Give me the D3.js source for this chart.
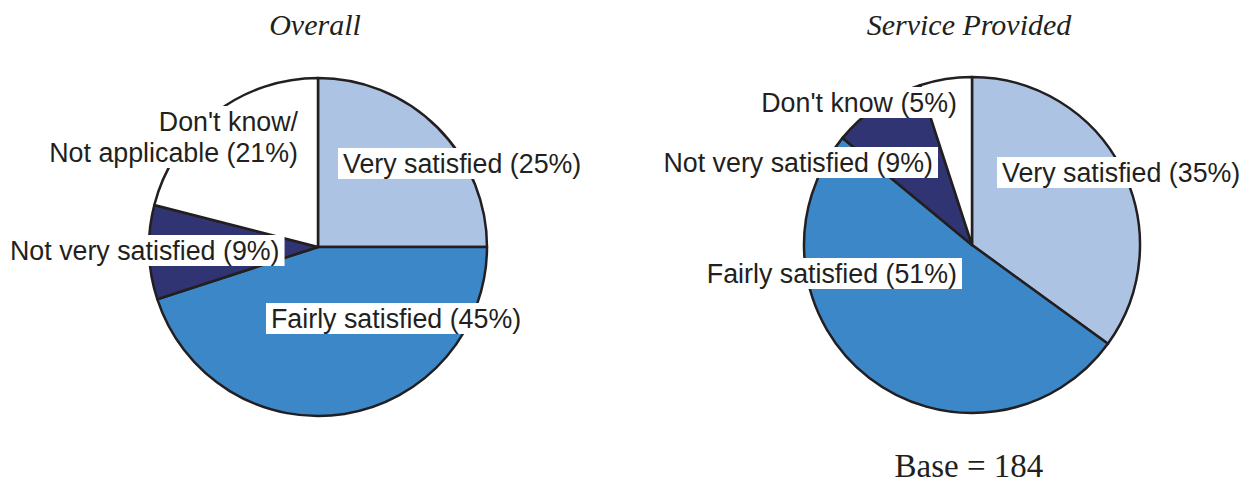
<!DOCTYPE html>
<html>
<head>
<meta charset="utf-8">
<script src="https://cdn.jsdelivr.net/npm/d3@7"></script>
<style>
  body { margin: 0; background: #fff; }
  svg { display: block; }
</style>
</head>
<body>
<div id="chart"></div>
<script>
var width = 1249,
  height = 485;

// data
var categories = ["Very satisfied", "Fairly satisfied", "Not very satisfied", "Don't know"];
var overallValues = [25, 45, 9, 21];
var serviceValues = [35, 51, 9, 5];
var overallLabels = ["Very satisfied (25%)", "Fairly satisfied (45%)", "Not very satisfied (9%)", "Don't know/\nNot applicable (21%)"];
var serviceLabels = ["Very satisfied (35%)", "Fairly satisfied (51%)", "Not very satisfied (9%)", "Don't know (5%)"];
var titles = ["Overall", "Service Provided"];
var baseNote = "Base = 184";

var colors = d3.scaleOrdinal()
  .domain(categories)
  .range(["#adc3e4", "#3b87c7", "#303472", "#ffffff"]);

// label placement, offsets from each pie centre (layout only)
var labelLayout = [
  [ {dx: 25, dy: -74, anchor: "start"},
    {dx: -47, dy: 81, anchor: "start"},
    {dx: -308, dy: 13, anchor: "start"},
    {dx: -20, dy: -116, anchor: "end"} ],
  [ {dx: 30, dy: -63, anchor: "start"},
    {dx: -15, dy: 38, anchor: "end"},
    {dx: -39, dy: -73, anchor: "end"},
    {dx: -15, dy: -133, anchor: "end"} ]
];

var pies = [
  {title: titles[0], values: overallValues, labels: overallLabels, cx: 318, cy: 247, r: 169},
  {title: titles[1], values: serviceValues, labels: serviceLabels, cx: 972, cy: 245, r: 168}
];

var svg = d3.select("#chart")
  .append("svg")
  .attr("width", width)
  .attr("height", height);

var pie = d3.pie()
  .sort(null)
  .value(function(d) { return d.value; });

pies.forEach(function(p, pi) {
  var arc = d3.arc()
    .innerRadius(0)
    .outerRadius(p.r);

  var rows = categories.map(function(c, i) {
    return {cat: c, value: p.values[i], label: p.labels[i]};
  });

  var g = svg.append("g")
    .attr("transform", "translate(" + p.cx + "," + p.cy + ")");

  g.selectAll("path.slice")
    .data(pie(rows))
    .enter().append("path")
    .attr("class", "slice")
    .attr("d", arc)
    .attr("fill", function(d) { return colors(d.data.cat); })
    .attr("stroke", "#231f20")
    .attr("stroke-width", 2.5)
    .attr("stroke-linejoin", "round");

  // title
  svg.append("text")
    .attr("x", p.cx - 3)
    .attr("y", 35)
    .attr("text-anchor", "middle")
    .attr("font-family", "'Liberation Serif', serif")
    .attr("font-style", "italic")
    .attr("font-size", "30px")
    .attr("fill", "#231f20")
    .text(p.title);

  // labels with white boxes
  rows.forEach(function(row, i) {
    var lay = labelLayout[pi][i];
    var lg = g.append("g");
    var box = lg.append("rect").attr("fill", "#fff");
    var t = lg.append("text")
      .attr("font-family", "'Liberation Sans', Arial, sans-serif")
      .attr("font-size", "26.8px")
      .attr("fill", "#231f20")
      .attr("text-anchor", lay.anchor);
    row.label.split("\n").forEach(function(line, li) {
      t.append("tspan")
        .attr("x", lay.dx)
        .attr("y", lay.dy + li * 31)
        .text(line);
    });
    var bb = t.node().getBBox();
    box.attr("x", bb.x - 5)
      .attr("y", bb.y - 1)
      .attr("width", bb.width + 10)
      .attr("height", bb.height + 1);
  });
});

svg.append("text")
  .attr("x", 969)
  .attr("y", 477)
  .attr("text-anchor", "middle")
  .attr("font-family", "'Liberation Serif', serif")
  .attr("font-size", "33px")
  .attr("fill", "#231f20")
  .text(baseNote);
</script>
</body>
</html>
